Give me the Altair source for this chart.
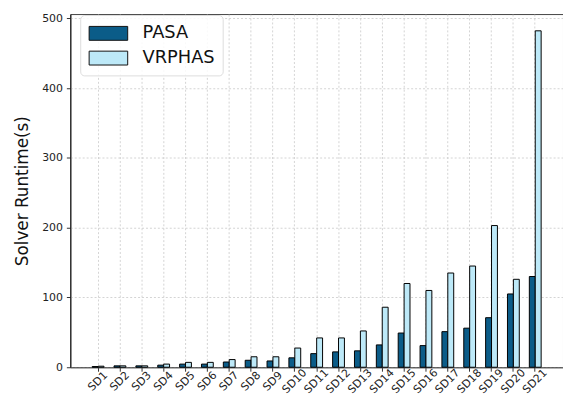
import altair as alt
import pandas as pd

categories = [f"SD{i}" for i in range(1, 22)]
solvers = ["PASA", "VRPHAS"]
pasa = [1, 2, 2, 3, 4.5, 4.5, 7.5, 10, 9, 13.5, 19.5, 22, 23.5, 32, 49, 31, 51, 56, 71, 105, 130]
vrphas = [1.5, 2, 2, 4.5, 7, 7, 11, 15, 15, 27.5, 42, 42, 52, 86, 120, 110, 135, 145, 203, 126, 482]
colors = ["#0b5c88", "#bde9f8"]
y_ticks = [0, 100, 200, 300, 400, 500]

rows = []
for c, p, v in zip(categories, pasa, vrphas):
    rows.append({"instance": c, "solver": "PASA", "runtime": p})
    rows.append({"instance": c, "solver": "VRPHAS", "runtime": v})
df = pd.DataFrame(rows)

font = "DejaVu Sans"

chart = alt.Chart(df).mark_bar(stroke="black", strokeWidth=1).encode(
    x=alt.X(
        "instance:N",
        sort=categories,
        scale=alt.Scale(paddingInner=0.46, paddingOuter=1.0),
        axis=alt.Axis(
            title=None,
            labelAngle=-45,
            labelAlign="center",
            labelBaseline="middle",
            labelPadding=10,
            bandPosition=0.5,
            grid=True,
            gridDash=[2, 2],
            gridColor="#c8c8c8",
            gridWidth=0.8,
            tickSize=4,
            tickColor="#333",
            labelFontSize=11,
            labelColor="#222",
            labelFont=font,
            domainColor="#555",
        ),
    ),
    xOffset=alt.XOffset("solver:N", sort=solvers),
    y=alt.Y(
        "runtime:Q",
        scale=alt.Scale(domain=[0, 506], nice=False),
        axis=alt.Axis(
            values=y_ticks,
            title="Solver Runtime(s)",
            titleFontSize=17,
            titleFontWeight="normal",
            titleFont=font,
            titleColor="#111",
            titlePadding=10,
            grid=True,
            gridDash=[2, 2],
            gridColor="#c8c8c8",
            gridWidth=0.8,
            tickSize=4,
            tickColor="#333",
            labelFontSize=11,
            labelColor="#222",
            labelFont=font,
            labelPadding=4,
            domainColor="#111",
        ),
    ),
    color=alt.Color(
        "solver:N",
        sort=solvers,
        scale=alt.Scale(domain=solvers, range=colors),
        legend=alt.Legend(
            title=None,
            orient="none",
            legendX=10,
            legendY=1,
            symbolType="M-2,-0.72H2V0.72H-2Z",
            symbolSize=380,
            symbolOffset=10,
            symbolStrokeColor="#111",
            symbolStrokeWidth=1,
            labelFontSize=18,
            labelFont=font,
            labelColor="#111",
            labelOffset=24,
            rowPadding=5,
            padding=8,
            fillColor="rgba(255,255,255,0.85)",
            strokeColor="#dddddd",
            cornerRadius=4,
        ),
    ),
).properties(
    width=498,
    height=357,
    autosize=alt.AutoSizeParams(type="none"),
    padding={"left": 63, "top": 4, "right": 0, "bottom": 33},
).configure_view(stroke="#444", strokeWidth=1)

chart.save("out.html", embed_options={"renderer": "svg", "actions": False})
